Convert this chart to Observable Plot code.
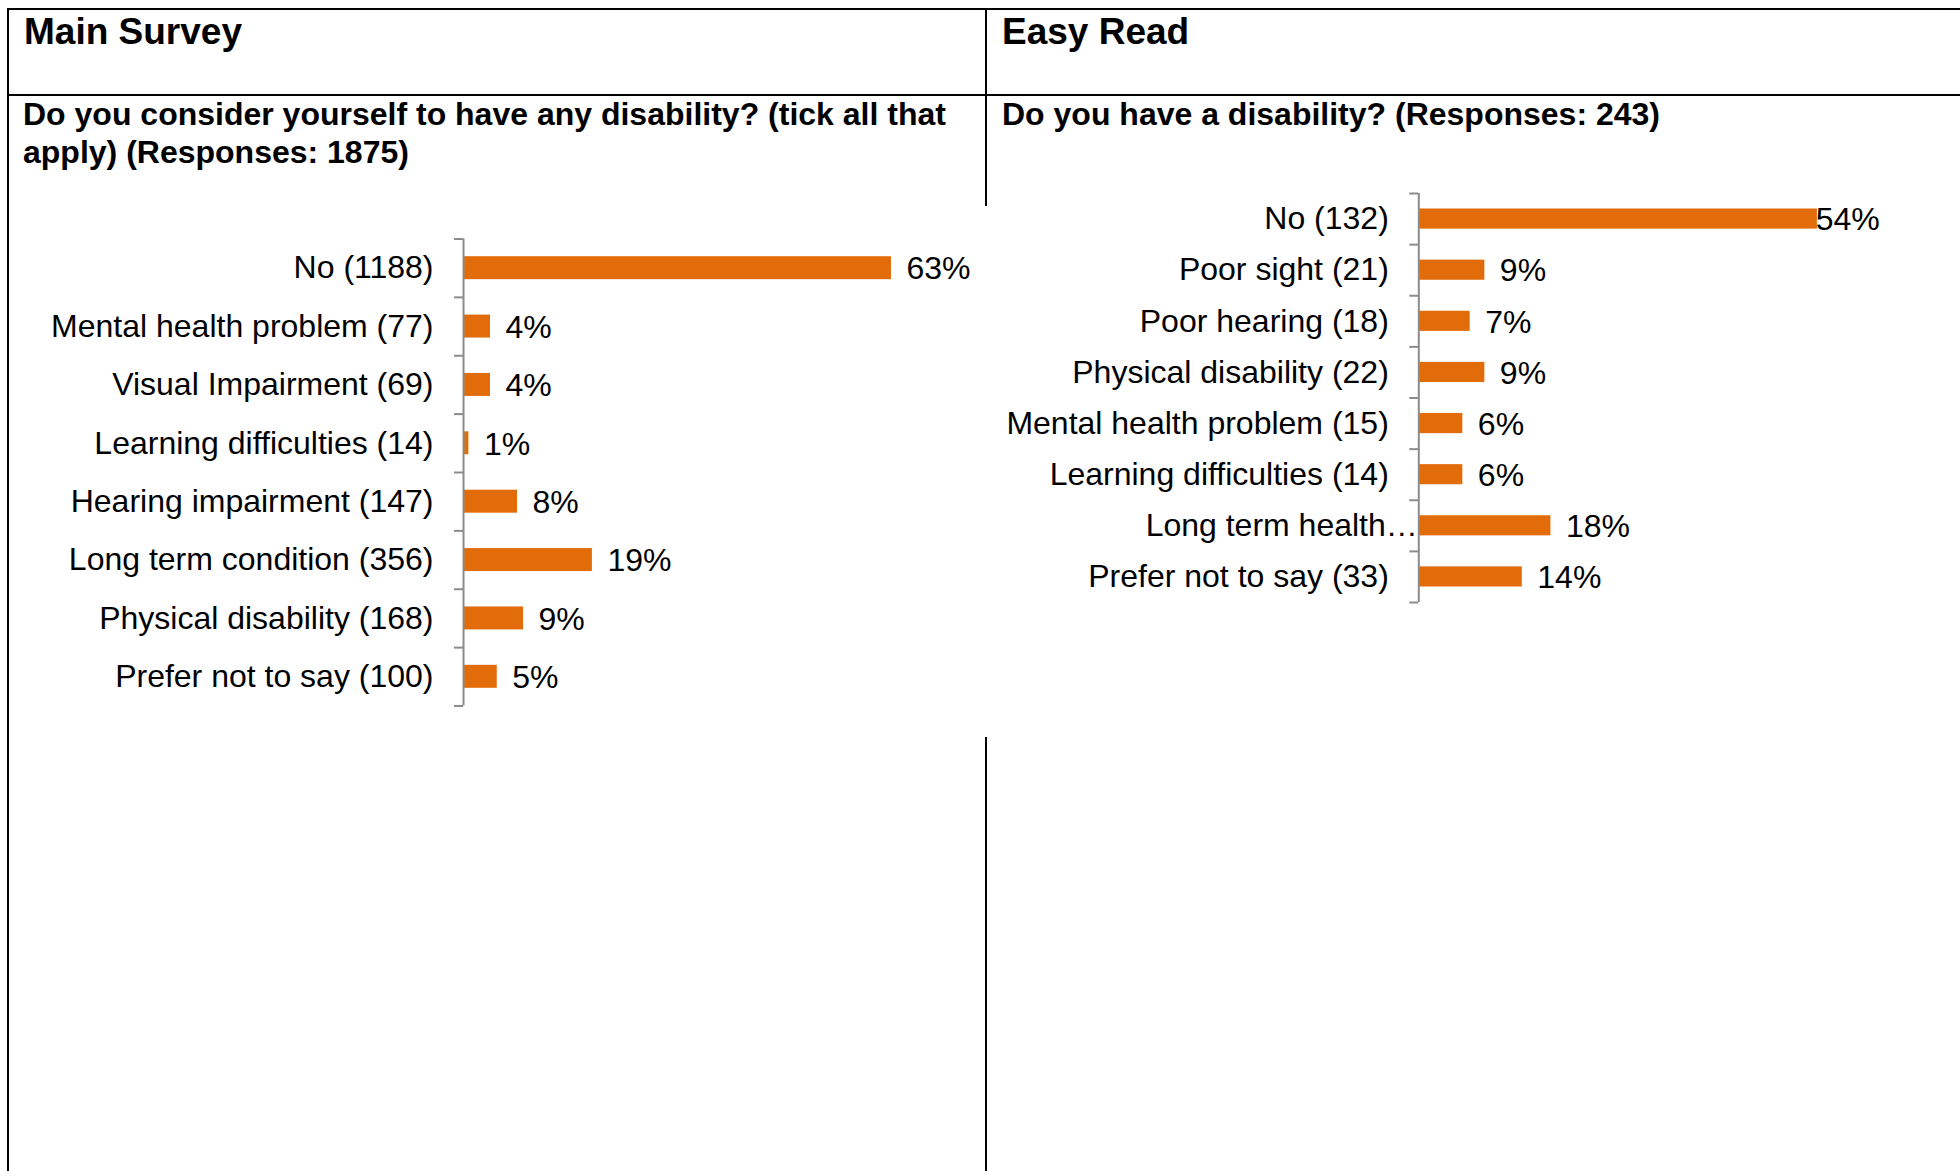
<!DOCTYPE html>
<html>
<head>
<meta charset="utf-8">
<script src="https://cdn.jsdelivr.net/npm/d3@7"></script>
<script src="https://cdn.jsdelivr.net/npm/@observablehq/plot@0.6"></script>
<style>
  html, body { margin: 0; padding: 0; background: #fff; width: 1960px; height: 1171px; overflow: hidden; }
  body { position: relative; font-family: "Liberation Sans", Arial, sans-serif; color: #000; }
  .line { position: absolute; background: #000; }
  .title { position: absolute; font-weight: bold; font-size: 37px; line-height: 37px; white-space: nowrap; }
  .question { position: absolute; font-weight: bold; font-size: 32px; line-height: 37.5px; white-space: nowrap; }
  .chart { position: absolute; }
</style>
</head>
<body>
<div class="line" style="left:7px; top:8px; width:1953px; height:2px;"></div>
<div class="line" style="left:7px; top:8px; width:2px; height:1163px;"></div>
<div class="line" style="left:7px; top:94px; width:1953px; height:2px;"></div>
<div class="line" style="left:985px; top:8px; width:2px; height:198px;"></div>
<div class="line" style="left:985px; top:737px; width:2px; height:434px;"></div>

<div class="title" style="left:24px; top:13px;">Main Survey</div>
<div class="title" style="left:1002px; top:13px;">Easy Read</div>
<div class="question" style="left:23px; top:96px;">Do you consider yourself to have any disability? (tick all that<br>apply) (Responses: 1875)</div>
<div class="question" style="left:1002px; top:96px;">Do you have a disability? (Responses: 243)</div>

<div id="left" class="chart" style="left:10px; top:210px;"></div>
<div id="right" class="chart" style="left:990px; top:170px;"></div>

<script>
// ---- Main Survey data ----
const msCategories = [
  "No (1188)",
  "Mental health problem (77)",
  "Visual Impairment (69)",
  "Learning difficulties (14)",
  "Hearing impairment (147)",
  "Long term condition (356)",
  "Physical disability (168)",
  "Prefer not to say (100)"
];
const msValues = [63.4, 4.0, 4.0, 0.8, 8.0, 19.1, 8.9, 5.0];
const msLabels = ["63%", "4%", "4%", "1%", "8%", "19%", "9%", "5%"];

// ---- Easy Read data ----
const erCategories = [
  "No (132)",
  "Poor sight (21)",
  "Poor hearing (18)",
  "Physical disability (22)",
  "Mental health problem (15)",
  "Learning difficulties (14)",
  "Long term health…",
  "Prefer not to say (33)"
];
const erValues = [54.3, 9.0, 7.0, 9.0, 6.0, 6.0, 18.0, 14.1];
const erLabels = ["54%", "9%", "7%", "9%", "6%", "6%", "18%", "14%"];

const BAR = "#E36C0A";
const AXIS = "#8c8c8c";
const FS = 32;

function chart({cats, vals, labs, width, height, marginLeft, marginRight, marginTop, marginBottom, xMax, inset}) {
  const n = cats.length;
  const rows = cats.map((c, i) => ({i, cat: c, value: vals[i], label: labs[i]}));
  const bounds = d3.range(n + 1).map(k => k - 0.5);
  const frameW = width - marginLeft - marginRight;
  const pxPer = frameW / xMax;
  const labelW = s => s.length * 0.6 * FS;
  const fits = d => d.value * pxPer + 15 + labelW(d.label) <= frameW;
  const truncated = d => d.cat.endsWith("…");
  return Plot.plot({
    width, height, marginLeft, marginRight, marginTop, marginBottom,
    style: {fontFamily: "'Liberation Sans', Arial, sans-serif", fontSize: FS + "px", color: "#000", background: "transparent", overflow: "visible"},
    x: {domain: [0, xMax], axis: null},
    y: {domain: [-0.5, n - 0.5], reverse: true, ticks: d3.range(n), tickFormat: i => truncated(rows[i]) ? "" : cats[i], tickSize: 0, tickPadding: 30, label: null},
    marks: [
      Plot.rectX(rows, {x1: 0, x2: "value", y1: d => d.i - 0.5, y2: d => d.i + 0.5, insetTop: inset, insetBottom: inset, fill: BAR}),
      Plot.ruleY(bounds, {y: d => d, x1: 0, x2: 0, insetLeft: -9, stroke: AXIS, strokeWidth: 2}),
      Plot.ruleX([0], {y1: -0.5, y2: n - 0.5, stroke: AXIS, strokeWidth: 2}),
      Plot.text(rows.filter(truncated), {x: 0, y: "i", text: "cat", textAnchor: "end", dx: -1, fill: "#000"}),
      Plot.text(rows.filter(fits), {x: "value", y: "i", text: "label", textAnchor: "start", dx: 15, dy: 1, fill: "#000"}),
      Plot.text(rows.filter(d => !fits(d)), {x: () => xMax, y: "i", text: "label", textAnchor: "end", dy: 1, fill: "#000"})
    ]
  });
}

document.getElementById("left").appendChild(chart({
  cats: msCategories, vals: msValues, labs: msLabels,
  width: 970, height: 520, marginLeft: 453, marginRight: 4, marginTop: 28.5, marginBottom: 24.5,
  xMax: 76, inset: 17.7
}));

document.getElementById("right").appendChild(chart({
  cats: erCategories, vals: erValues, labs: erLabels,
  width: 960, height: 470, marginLeft: 428.3, marginRight: 70.7, marginTop: 23, marginBottom: 38,
  xMax: 62.8, inset: 15.5
}));
</script>
</body>
</html>
